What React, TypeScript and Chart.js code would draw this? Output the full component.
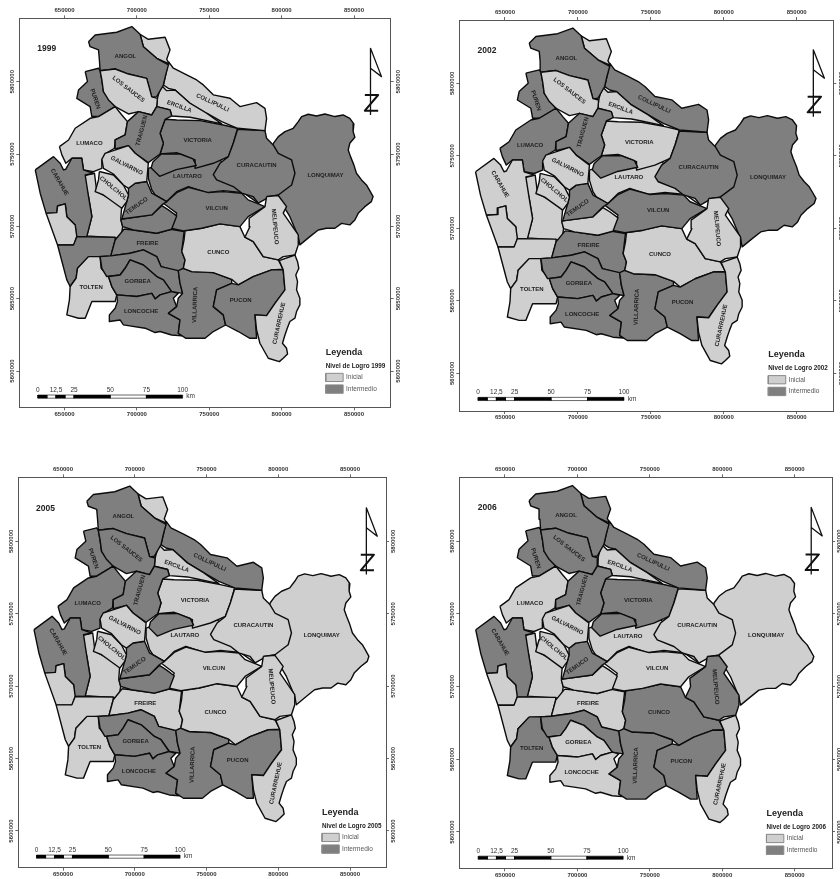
import React, { useEffect, useRef } from "react";
import { Chart, registerables } from "chart.js";

Chart.register(...registerables);

// All outlines: [easting km, northing km] (UTM).
const LONQUIMAY = [[794.3,5757.4],[797.7,5762],[802.3,5765.5],[808,5767.8],[811.5,5772.4],[813.8,5775.9],[818.4,5777.5],[824.1,5776.3],[829.9,5777.7],[836.8,5775.9],[842.5,5777],[847.1,5774.7],[849.9,5770.8],[849.4,5765.5],[850.6,5761.6],[847.1,5757.4],[846,5752.8],[847.6,5748.2],[849.9,5742.5],[851.7,5736.7],[855.2,5732.1],[858.6,5728.6],[860.9,5724.7],[863.2,5720.6],[862,5717.1],[857.5,5713.6],[852.9,5709],[850.6,5704.4],[847.1,5701],[841.4,5702.1],[836.8,5698.7],[831,5698.7],[825.3,5697.5],[819.5,5692.9],[812.6,5687.2],[811.5,5692.9],[805.7,5706.7],[798.8,5718.3],[789.6,5736.7]];
const LAUTARO = [[707.9,5740.1],[725.2,5745.9],[757.4,5745.9],[780.4,5725.2],[783.9,5716],[773.5,5723.3],[759.7,5724.7],[748.2,5723.3],[735.6,5727.5],[727.5,5724],[720.6,5717.1],[712.6,5721.7],[710.3,5725.2],[707.9,5733.2]];
const VICTORIA = [[719.5,5774],[727.5,5773.5],[743.6,5773.1],[759.7,5770.1],[769.6,5767.8],[766.6,5757.4],[763.2,5748.2],[752.8,5743.6],[740.2,5740.1],[740.2,5745.9],[727.5,5751],[716,5750],[718.3,5757.4],[716,5764.3]];
const PERQUENCO = [[711,5744.5],[716.8,5750],[729.5,5750.2],[738.7,5746.7],[741,5742.1],[727.2,5739.2],[715.7,5734.6],[709.9,5740.4]];
const CURACAUTIN = [[769.6,5767.1],[779.3,5766.6],[788.5,5766.2],[789.6,5760.9],[794.2,5756.3],[797.7,5750.5],[806.9,5745.9],[809.2,5736.7],[806.9,5728.6],[797.7,5721.7],[791.9,5720.6],[783.9,5716],[780.4,5720.6],[772.4,5723],[766.6,5727.5],[755.1,5732.1],[752.8,5735.7],[757.4,5743.6],[763.2,5748.2],[766.6,5757.4]];
const COLLIPULLI = [[721.8,5813.9],[725.2,5809.3],[734.4,5804.7],[741.3,5801.2],[745.9,5797.8],[752.8,5790.9],[764.3,5788.6],[771.2,5782.8],[782.7,5785.5],[788.5,5781.6],[789.6,5774.7],[788.5,5766.2],[769.6,5767.8],[758.6,5772.4],[748.2,5778.2],[736.7,5785.1],[726.4,5794.3],[721.8,5795.4],[718.3,5797.7],[719.9,5804.7]];
const RENAICO = [[702.2,5832.8],[707.9,5829.3],[719.5,5830.7],[722.9,5822],[720.6,5815.5],[722.4,5812.3],[713.7,5816.2],[704.5,5824.2]];
const ERCILLA = [[716.7,5797.7],[720.6,5793.8],[726.4,5794.3],[736.7,5785.1],[748.2,5778.2],[758.6,5770.8],[743.6,5774],[736.7,5775.4],[724.1,5776.3],[722.9,5780.5],[713.7,5782.8],[714.2,5788.5]];
const ANGOL = [[666.6,5827.7],[671.2,5832.3],[686.1,5834.2],[696.5,5838.1],[702.2,5832.8],[704.5,5824.2],[713.7,5816.2],[721.8,5811.6],[719.9,5804.7],[718.3,5797.7],[713.7,5789.7],[710.3,5789.2],[706.8,5802.3],[694.2,5805.3],[685,5808.8],[674.6,5807.6],[674.1,5815],[673.5,5822],[667.7,5824.2]];
const PUREN = [[664.3,5807],[673.5,5809.3],[674.6,5807.6],[675.8,5801.2],[676.9,5793.1],[685,5782.8],[673.5,5775.9],[668.9,5775.9],[667.7,5782.8],[658.5,5788.5],[659.7,5794.3],[665.9,5800.1]];
const LOS_SAUCES = [[674.6,5807.6],[685,5808.8],[694.2,5805.3],[706.8,5802.3],[710.3,5789.5],[714.2,5788.5],[713.7,5782.8],[710.3,5777],[701.1,5779.3],[694.2,5777.7],[685,5782.8],[680.4,5787.4],[676.9,5793.1],[675.8,5801.2]];
const LUMACO = [[646.5,5755.1],[652.8,5759.7],[657.4,5767.8],[667.7,5774.7],[673.5,5775.9],[685,5782.8],[689.6,5777],[693.5,5772.4],[691.9,5763.2],[685,5759.7],[684.5,5754],[678.7,5750.5],[675.8,5745.9],[675.8,5740.1],[670,5737.8],[663.1,5739],[661.9,5747.1],[655.1,5747.1],[650.9,5743.6],[648.2,5749.4]];
const TRAIGUEN = [[693.5,5772.4],[701.1,5779.3],[710.3,5777],[713.7,5782.8],[722.9,5780.5],[724.1,5776.3],[719.5,5774],[716,5764.3],[718.3,5757.4],[716,5750],[707.9,5744.1],[698.8,5750.5],[694.2,5755.8],[685,5753.5],[685,5759.7],[691.9,5763.2]];
const NUEVA_IMPERIAL = [[663.1,5734.9],[670.7,5736.7],[672.3,5724],[689.6,5714.8],[688.9,5705.6],[690.2,5699.8],[688.9,5691.8],[665.4,5693.4],[668.9,5706.7],[666.6,5720.6]];
const CARAHUE = [[629.8,5739],[642.4,5748.2],[647,5743.6],[649.3,5739],[650.9,5739.5],[655.1,5747.1],[661.9,5747.1],[663.1,5739],[670,5736.7],[664.3,5735.5],[666.6,5720.6],[668.9,5706.7],[665.4,5692.9],[658,5692.9],[657.4,5701],[651.6,5706.7],[650.5,5715.5],[645.2,5714.1],[644.7,5709.5],[637.3,5709],[633.2,5722.9]];
const SAAVEDRA = [[637.3,5709],[644.7,5709.5],[645.2,5714.1],[650.5,5715.5],[651.6,5706.7],[657.4,5701],[658.5,5692.9],[656.6,5687.1],[645.2,5687.1]];
const TEODORO_SCHMIDT = [[645.2,5687.1],[656.2,5687.1],[658.5,5692.9],[685,5692.5],[685,5690.6],[682,5679.6],[666.6,5678.6],[659,5671],[658,5664.1],[653.9,5658.4],[651.6,5663]];
const TOLTEN = [[666.6,5679.1],[674.6,5679.1],[675.3,5671],[680.4,5665.3],[682.7,5658.4],[686.1,5652.6],[685,5648],[674.6,5648],[668.9,5648],[664.3,5636.5],[659.7,5636.5],[651.6,5638.8],[653.4,5649.1],[653.9,5658.4],[658,5664.1],[659,5671]];
const FREIRE = [[691.2,5698.2],[697.6,5697.5],[713.7,5695.2],[723.4,5698],[732.6,5696.4],[731,5682.6],[733.3,5676.8],[732.1,5671],[728.6,5668.7],[716.7,5672.2],[713.7,5679.1],[704.5,5683.7],[695.3,5681.4],[682,5679.6],[685,5690.6]];
const PITRUFQUEN = [[674.6,5679.1],[682,5679.6],[695.3,5681.4],[704.5,5683.7],[713.7,5679.1],[716.7,5672.2],[728.6,5669.4],[729.8,5660.7],[731.6,5653.7],[724,5654.9],[718.3,5663],[713.7,5665.3],[704.5,5673.3],[695.3,5676.8],[691.9,5671],[688.4,5666.4],[679.2,5665.3],[675.8,5671]];
const GORBEA = [[695.3,5676.8],[704.5,5673.3],[713.7,5665.3],[718.3,5663],[724,5654.9],[716,5652.6],[712.6,5649.8],[710.3,5653.7],[699.9,5651.5],[686.1,5652.6],[682.7,5658.4],[680.4,5665.3],[688.4,5666.4],[691.9,5671]];
const LONCOCHE = [[686.1,5652.6],[699.9,5651.5],[710.3,5653.7],[712.6,5649.8],[716,5652.6],[724,5654.9],[728.6,5653.7],[725.2,5650.3],[727.5,5644.5],[721.8,5639.9],[729.8,5635.3],[728.6,5626.1],[731,5624.3],[724,5624.9],[716,5627.3],[712.6,5626.6],[705.7,5629.6],[690.7,5631.9],[688.4,5635.3],[681,5634.2],[681,5638.8],[685,5643.4],[686.6,5648]];
const VILLARRICA = [[728.6,5669.4],[732.1,5671],[737.9,5668.7],[752.8,5668],[765.5,5663.4],[765.5,5660.6],[755.1,5656.1],[752.8,5644.5],[759.7,5638.8],[761.3,5631.8],[752.8,5627.3],[747.1,5622.6],[733.9,5622.6],[728.6,5626.1],[729.8,5635.3],[721.8,5639.9],[727.5,5644.5],[728.6,5650.3],[731.6,5653.7],[729.8,5660.7]];
const CUNCO = [[733.3,5697],[744.8,5698.7],[757.4,5701.7],[771.2,5699.8],[774.6,5692.5],[780.4,5689.5],[787.3,5679.1],[797.7,5676.8],[801.1,5670.3],[793.1,5669.9],[780.4,5665.2],[770.1,5659.5],[765.5,5663.4],[752.8,5668],[737.9,5668.7],[732.1,5671],[733.3,5676.8],[731,5682.6],[732.6,5690.6]];
const VILCUN = [[718.3,5716],[720.6,5717.1],[727.5,5723.3],[735.6,5727],[749.4,5723.3],[759.7,5724],[772.4,5722.9],[776.9,5718.3],[783.9,5715.5],[788.5,5713.6],[776.9,5706.7],[771.2,5699.8],[757.4,5701.7],[744.8,5698.7],[732.1,5696.9],[723.4,5698.7],[727.5,5709.1],[722.9,5712.5]];
const PADRE_LAS_CASAS = [[689.6,5705.1],[710.3,5707.9],[717.2,5714.3],[721.8,5711.4],[727.5,5707.2],[724,5698],[713.7,5695.2],[697.6,5697.5],[690.2,5699.8],[688.9,5704.4]];
const TEMUCO = [[698.8,5729.8],[706.8,5731],[710.3,5722.9],[720.6,5717.1],[717.2,5714.8],[710.3,5707.9],[689.6,5705.1],[693,5717.1],[694.2,5721.7],[694.2,5726.3]];
const CHOLCHOL = [[674.1,5737.9],[683.8,5735.5],[690.7,5728.6],[694.2,5721.7],[693,5717.1],[689.6,5712.5],[676.9,5721.7],[671.2,5724],[673.5,5732.1]];
const GALVARINO = [[675.8,5746.4],[678,5750.5],[694.2,5755.8],[698.8,5750.5],[707.9,5743.6],[706.8,5731],[698.8,5729.8],[694.2,5726.3],[690.7,5728.6],[683.8,5736.2],[676.9,5740.1]];
const MELIPEUCO = [[789.6,5720.6],[797.7,5721.3],[803.4,5713.6],[801.1,5709.1],[811.5,5694.1],[811.5,5687.2],[809.2,5680.2],[801.1,5679.1],[797.7,5676.8],[787.3,5679.1],[780.4,5689.5],[774.6,5692.5],[778.1,5699.8],[777.6,5705.6],[788.5,5713.6]];
const PUCON = [[801.1,5669.9],[802.3,5656.1],[795.4,5646.8],[789.6,5638.3],[781.6,5638.8],[782.7,5622.6],[778.1,5622.6],[770.1,5627.3],[761.3,5631.8],[759.7,5638.8],[752.8,5644.5],[755.1,5656.1],[765.5,5660.6],[770.1,5659.5],[780.4,5665.2],[793.1,5669.9]];
const CURARREHUE = [[798.3,5676.3],[809.2,5680.2],[811,5675.6],[811.9,5671],[809.8,5666.4],[811,5661.8],[810.3,5656.1],[812.6,5650.3],[812.6,5645.7],[810.3,5641.1],[809.2,5636.5],[805.7,5634.2],[803.9,5629.6],[802.3,5624.9],[800.6,5619.2],[803.4,5615.7],[804.1,5611.8],[801.1,5608.8],[798.4,5606.5],[790.8,5608.8],[785,5619.2],[782.7,5628.4],[781.6,5638.8],[789.6,5638.3],[795.4,5646.8],[802.3,5656.1],[801.1,5669.9]];

// Painted in this order: a later commune defines the border it shares with an earlier one.
const COMMUNES: [string, number[][]][] = [
  ["Lonquimay", LONQUIMAY], ["Lautaro", LAUTARO], ["Victoria", VICTORIA], ["Perquenco", PERQUENCO],
  ["Curacautin", CURACAUTIN], ["Collipulli", COLLIPULLI], ["Renaico", RENAICO], ["Ercilla", ERCILLA],
  ["Angol", ANGOL], ["Puren", PUREN], ["Los Sauces", LOS_SAUCES], ["Lumaco", LUMACO], ["Traiguen", TRAIGUEN],
  ["Nueva Imperial", NUEVA_IMPERIAL], ["Carahue", CARAHUE], ["Saavedra", SAAVEDRA], ["Teodoro Schmidt", TEODORO_SCHMIDT],
  ["Tolten", TOLTEN], ["Freire", FREIRE], ["Pitrufquen", PITRUFQUEN], ["Gorbea", GORBEA], ["Loncoche", LONCOCHE],
  ["Villarrica", VILLARRICA], ["Cunco", CUNCO], ["Vilcun", VILCUN], ["Padre Las Casas", PADRE_LAS_CASAS],
  ["Temuco", TEMUCO], ["Cholchol", CHOLCHOL], ["Galvarino", GALVARINO], ["Melipeuco", MELIPEUCO],
  ["Pucon", PUCON], ["Curarrehue", CURARREHUE],
];

// Communes at "Intermedio" level per year; every other commune is "Inicial".
const INTERMEDIO_1999 = ["Angol","Puren","Traiguen","Victoria","Perquenco","Curacautin","Lonquimay","Lautaro","Carahue","Temuco","Vilcun","Padre Las Casas","Teodoro Schmidt","Freire","Gorbea","Loncoche","Pitrufquen","Villarrica","Pucon"];
const INTERMEDIO_2002 = ["Angol","Puren","Collipulli","Lumaco","Traiguen","Perquenco","Curacautin","Lonquimay","Temuco","Vilcun","Freire","Gorbea","Loncoche","Pitrufquen","Villarrica","Pucon"];
const INTERMEDIO_2005 = ["Angol","Los Sauces","Puren","Collipulli","Lumaco","Traiguen","Perquenco","Carahue","Temuco","Padre Las Casas","Gorbea","Loncoche","Pitrufquen","Villarrica","Pucon"];
const INTERMEDIO_2006 = ["Angol","Renaico","Los Sauces","Puren","Collipulli","Traiguen","Victoria","Perquenco","Carahue","Temuco","Cunco","Melipeuco","Tolten","Pitrufquen","Villarrica","Pucon"];

// [text, easting km, northing km, rotation degrees]
const MAP_LABELS: [string, number, number, number][] = [
  ["ANGOL",692.1,5817.3,0],["LOS SAUCES",694.2,5794.8,38],["PUREN",671.2,5788.1,72],["ERCILLA",729.3,5782.8,20],
  ["COLLIPULLI",752.3,5785.5,25],["LUMACO",667.2,5757.4,0],["TRAIGUEN",703.4,5766.2,-75],["VICTORIA",742,5759.5,0],
  ["CURACAUTIN",782.7,5742,0],["LONQUIMAY",830.3,5735.1,0],["LAUTARO",734.9,5734.8,0],["GALVARINO",693,5742,27],
  ["CARAHUE",646.5,5730.5,60],["CHOLCHOL",683.8,5726.3,40],["TEMUCO",699.9,5714.1,-35],["VILCUN",755.1,5712.5,0],
  ["MELIPEUCO",795.4,5699.8,85],["FREIRE",707.3,5688.3,0],["CUNCO",756.3,5681.9,0],["GORBEA",700.6,5661.8,0],
  ["TOLTEN",668.4,5657.6,0],["LONCOCHE",702.9,5641,0],["VILLARRICA",740.2,5645.7,-88],["PUCON",771.7,5648.7,0],
  ["CURARREHUE",798.3,5633,-78],
];

const X_TICKS = [650000, 700000, 750000, 800000, 850000];
const Y_TICKS = [5600000, 5650000, 5700000, 5750000, 5800000];
const SCALE_BREAKS_KM = [0, 6.25, 12.5, 18.75, 25, 50, 75, 100];
const SCALE_TEXT: [string, number][] = [["0",0],["12,5",12.5],["25",25],["50",50],["75",75],["100",100]];
const NORTH_ARROW = [[861.4,5777],[861.4,5823.1],[869,5803.5],[861.4,5809.3]];
const NORTH_LETTER = [[857.5,5790.8],[866.7,5790.8],[857.5,5780],[866.7,5780]];

const LIGHT = "#cfcfcf";
const DARK = "#7f7f7f";
const FONT = "'Liberation Sans', Arial, sans-serif";

type Panel = { year: string; dark: string[]; cx: number; cy: number; cw: number; ch: number; l: number; r: number; t: number; b: number; x650: number; x850: number; y5800: number; y5600: number };

const PANELS: Panel[] = [
  { year: "1999", dark: INTERMEDIO_1999, cx: 0, cy: 0, cw: 420, ch: 435, l: 19.3, r: 390.7, t: 18.3, b: 407.3, x650: 64.5, x850: 354, y5800: 81.7, y5600: 371 },
  { year: "2002", dark: INTERMEDIO_2002, cx: 420, cy: 0, cw: 420, ch: 435, l: 459.3, r: 833.3, t: 20, b: 411, x650: 505, x850: 796.7, y5800: 83.3, y5600: 373.3 },
  { year: "2005", dark: INTERMEDIO_2005, cx: 0, cy: 440, cw: 420, ch: 439, l: 18.3, r: 386, t: 477.3, b: 867.7, x650: 63, x850: 350, y5800: 541.3, y5600: 831 },
  { year: "2006", dark: INTERMEDIO_2006, cx: 420, cy: 440, cw: 420, ch: 439, l: 459.3, r: 832, t: 477.3, b: 868.3, x650: 505, x850: 794.7, y5800: 541, y5600: 832 },
];

const pts = (line: number[][]) => line.map(([e, n]) => ({ x: e * 1000, y: n * 1000 }));
const ring = (line: number[][]) => pts([...line, line[0]]);
const rect = (e0: number, e1: number, n0: number, n1: number) => ring([[e0, n0], [e1, n0], [e1, n1], [e0, n1]]);
const shape = (data: any[], fill: string, stroke: string, width = 1) => ({
  data, showLine: true, fill: "shape", backgroundColor: fill, borderColor: stroke, borderWidth: width,
  pointRadius: 0, pointHoverRadius: 0, tension: 0, borderJoinStyle: "round",
});

const SCALE_E0 = 631.6;

function buildConfig(p: Panel) {
  const kx = (850000 - 650000) / (p.x850 - p.x650);
  const ky = (5800000 - 5600000) / (p.y5600 - p.y5800);
  const xr = { min: 650000 - (p.x650 - p.l) * kx, max: 650000 + (p.r - p.x650) * kx };
  const yr = { min: 5800000 - (p.b - p.y5800) * ky, max: 5800000 + (p.y5800 - p.t) * ky };

  const painted: any[] = COMMUNES.map(([name, outline]) =>
    shape(ring(outline), p.dark.includes(name) ? DARK : LIGHT, "#0c0c0c", 1.4));
  for (let i = 0; i < SCALE_BREAKS_KM.length - 1; i++) {
    painted.push(shape(rect(SCALE_E0 + SCALE_BREAKS_KM[i], SCALE_E0 + SCALE_BREAKS_KM[i + 1], 5581.2, 5583.4), i % 2 ? "#ffffff" : "#000000", "#000000", 0.6));
  }
  painted.push(shape(rect(830.5, 842.5, 5592.7, 5598.4), LIGHT, "#8a8a8a", 1));
  painted.push(shape(rect(830.5, 842.5, 5584.6, 5590.4), DARK, "#8a8a8a", 1));
  painted.push({ ...shape(pts(NORTH_ARROW), "transparent", "#111111", 1.3), fill: false });
  painted.push({ ...shape(pts(NORTH_LETTER), "transparent", "#111111", 2), fill: false });

  const overlay = {
    id: "mapText",
    afterDatasetsDraw(chart: any) {
      const { ctx, scales } = chart;
      const px = (e: number) => scales.x.getPixelForValue(e * 1000);
      const py = (n: number) => scales.y.getPixelForValue(n * 1000);
      ctx.save();
      ctx.textBaseline = "middle";
      ctx.fillStyle = "#222";
      ctx.textAlign = "center";
      ctx.font = `bold 6px ${FONT}`;
      MAP_LABELS.forEach(([t, e, n, rot]) => {
        ctx.save();
        ctx.translate(px(e), py(n));
        ctx.rotate((rot * Math.PI) / 180);
        ctx.fillText(t, 0, 0);
        ctx.restore();
      });
      ctx.fillStyle = "#333";
      ctx.font = `6.5px ${FONT}`;
      SCALE_TEXT.forEach(([t, km]) => ctx.fillText(t, px(SCALE_E0 + km), py(5586.9)));
      ctx.textAlign = "left";
      ctx.fillText("km", px(SCALE_E0 + 102.5), py(5582.3));
      ctx.fillStyle = "#222";
      ctx.font = `bold 8.5px ${FONT}`;
      ctx.fillText(p.year, px(631.2), py(5822.8));
      ctx.font = `bold 9px ${FONT}`;
      ctx.fillText("Leyenda", px(830.5), py(5612.7));
      ctx.font = `bold 6.3px ${FONT}`;
      ctx.fillText(`Nivel de Logro ${p.year}`, px(830.5), py(5603.3));
      ctx.fillStyle = "#555";
      ctx.font = `6.5px ${FONT}`;
      ctx.fillText("Inicial", px(844.5), py(5595.5));
      ctx.fillText("Intermedio", px(844.5), py(5587.4));
      ctx.restore();
    },
  };

  const tickFont = { size: 6, family: FONT, weight: "bold" as const };
  const common = {
    type: "linear" as const,
    grid: { drawOnChartArea: false, drawTicks: true, tickLength: 3, color: "#444", lineWidth: 0.8 },
    border: { display: true, color: "#555", width: 1 },
  };
  const xAxis = (position: string, size: number, padding: number) => ({
    ...common, position, axis: "x", ...xr,
    afterBuildTicks: (s: any) => { s.ticks = X_TICKS.map((value) => ({ value })); },
    afterFit: (s: any) => { s.height = size; },
    ticks: { color: "#333", font: tickFont, padding, autoSkip: false, minRotation: 0, maxRotation: 0, callback: (v: any) => String(v) },
  });
  const yAxis = (position: string, size: number, padding: number) => ({
    ...common, position, axis: "y", ...yr,
    afterBuildTicks: (s: any) => { s.ticks = Y_TICKS.map((value) => ({ value })); },
    afterFit: (s: any) => { s.width = size; },
    ticks: { color: "#333", font: tickFont, padding, autoSkip: false, minRotation: 90, maxRotation: 90, crossAlign: "center", callback: (v: any) => String(v) },
  });

  return {
    type: "scatter" as const,
    data: { datasets: painted.reverse() },
    options: {
      animation: false as const,
      responsive: false,
      events: [],
      layout: { padding: 0 },
      plugins: { legend: { display: false }, tooltip: { enabled: false }, title: { display: false }, filler: { drawTime: "beforeDatasetDraw" } },
      scales: {
        x: xAxis("bottom", p.cy + p.ch - p.b, 0),
        x2: xAxis("top", p.t - p.cy, 1),
        y: yAxis("left", p.l - p.cx, -8),
        y2: yAxis("right", p.cx + p.cw - p.r, -7),
      },
    },
    plugins: [overlay],
  };
}

function MapPanel({ panel }: { panel: Panel }) {
  const ref = useRef<HTMLCanvasElement>(null);
  useEffect(() => {
    const chart = new Chart(ref.current as HTMLCanvasElement, buildConfig(panel) as any);
    return () => chart.destroy();
  }, [panel]);
  return (
    <canvas
      ref={ref}
      width={panel.cw}
      height={panel.ch}
      style={{ position: "absolute", left: panel.cx, top: panel.cy, width: panel.cw, height: panel.ch }}
    />
  );
}

export default function App() {
  return (
    <div style={{ position: "absolute", left: 0, top: 0, width: 840, height: 879, overflow: "hidden", background: "#fff" }}>
      {PANELS.map((p) => <MapPanel key={p.year} panel={p} />)}
    </div>
  );
}
